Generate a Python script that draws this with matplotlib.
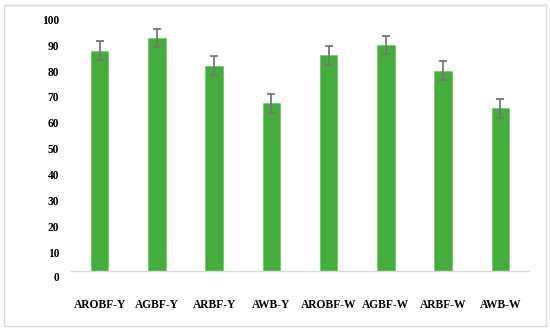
import matplotlib
matplotlib.use("Agg")
import matplotlib.pyplot as plt
from matplotlib.patches import Rectangle
import matplotlib.transforms as mtransforms

categories = ["AROBF-Y", "AGBF-Y", "ARBF-Y", "AWB-Y", "AROBF-W", "AGBF-W", "ARBF-W", "AWB-W"]
values = [87.9, 92.8, 82.1, 67.6, 86.1, 90.0, 80.2, 65.6]
errors = [3.7, 3.6, 3.7, 3.6, 3.6, 3.5, 3.6, 3.6]
yticks = [10, 20, 30, 40, 50, 60, 70, 80, 90, 100]

W, H = 550, 332
fig = plt.figure(figsize=(W / 100, H / 100), dpi=100)
fig.patch.set_facecolor("white")
fig.add_artist(Rectangle((4 / W, 1 - 326 / H), 542 / W, 321 / H, transform=fig.transFigure,
                         fill=False, edgecolor="#d9d9d9", linewidth=1.0))

ax = fig.add_axes([71 / W, 1 - 271 / H, 458 / W, (271 - 19.3) / H])
x = range(len(categories))
ax.bar(x, values, width=0.31, color="#44ad3c", edgecolor="#6cc464", linewidth=0.5,
       yerr=errors, error_kw=dict(ecolor="#767676", elinewidth=1.3, capsize=3.2, capthick=1.3),
       zorder=2)
ax.set_xlim(-0.5, len(categories) - 0.5)
ax.set_ylim(2.8, 100)

font = dict(family="Liberation Serif", weight="bold", size=8.3)
ax.set_yticks(yticks)
ax.set_yticklabels([str(t) for t in yticks], fontdict=font)
ax.set_xticks(list(x))
ax.set_xticklabels(categories, fontdict=font)
ax.tick_params(axis="y", length=0, pad=8.5)
ax.tick_params(axis="x", length=0, pad=20)

trans = mtransforms.blended_transform_factory(ax.transAxes, ax.transData)
ax.text(-12 / 458, 0, "0", transform=trans, ha="right", va="center", clip_on=False, **font)

for s in ["left", "right", "top"]:
    ax.spines[s].set_visible(False)
ax.spines["bottom"].set_color("#d9d9d9")
ax.spines["bottom"].set_linewidth(1.0)

fig.savefig("out.png", dpi=100)
